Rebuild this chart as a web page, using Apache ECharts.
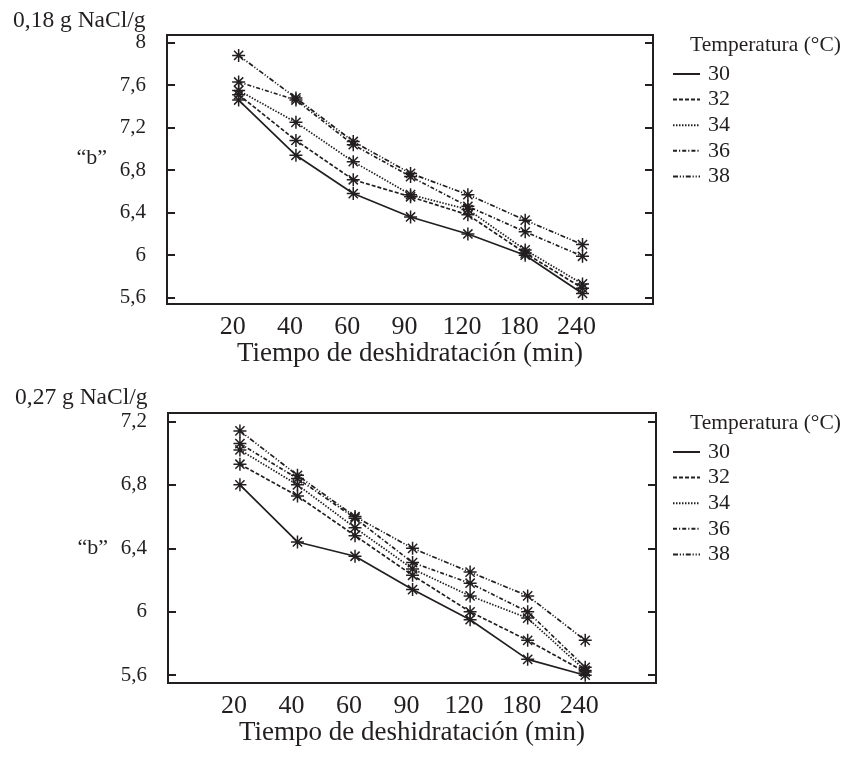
<!DOCTYPE html>
<html>
<head>
<meta charset="utf-8">
<script src="https://cdn.jsdelivr.net/npm/echarts@6/dist/echarts.min.js"></script>
<style>
html,body{margin:0;padding:0;background:#fff;}
#c{width:850px;height:757px;}
</style>
</head>
<body>
<div id="c"></div>
<script>
// Categories (dehydration time, min)
const categories = ['20', '40', '60', '90', '120', '180', '240'];
const temperatures = ['30', '32', '34', '36', '38'];

// 0,18 g NaCl/g — "b" values
const b18_30 = [7.46, 6.94, 6.58, 6.36, 6.20, 6.00, 5.64];
const b18_32 = [7.51, 7.08, 6.71, 6.55, 6.38, 6.02, 5.69];
const b18_34 = [7.55, 7.25, 6.88, 6.57, 6.43, 6.05, 5.73];
const b18_36 = [7.63, 7.46, 7.04, 6.74, 6.46, 6.22, 5.99];
const b18_38 = [7.88, 7.48, 7.07, 6.77, 6.57, 6.33, 6.10];

// 0,27 g NaCl/g — "b" values
const b27_30 = [6.80, 6.44, 6.35, 6.14, 5.95, 5.70, 5.60];
const b27_32 = [6.93, 6.73, 6.48, 6.23, 6.00, 5.82, 5.62];
const b27_34 = [7.02, 6.80, 6.53, 6.27, 6.10, 5.96, 5.63];
const b27_36 = [7.06, 6.84, 6.59, 6.31, 6.18, 6.00, 5.65];
const b27_38 = [7.14, 6.86, 6.60, 6.40, 6.25, 6.10, 5.82];

// Tick labels
const yTicksTop = [5.6, 6, 6.4, 6.8, 7.2, 7.6, 8];
const yTicksBottom = [5.6, 6, 6.4, 6.8, 7.2];
const xTickIdx = [0, 1, 2, 3, 4, 5, 6];

const topSets = [b18_30, b18_32, b18_34, b18_36, b18_38];
const botSets = [b27_30, b27_32, b27_34, b27_36, b27_38];

const FONT = '"Liberation Serif", "DejaVu Serif", serif';
const INK = '#231f20';
const dashes = ['solid', [4, 2], [1.5, 1.5], [4, 2, 1.2, 2], [5, 1.8, 1.2, 1.8, 1.2, 1.8]];
const asterisk = 'path://M0,-10L0,10M-10,0L10,0M-7.07,-7.07L7.07,7.07M-7.07,7.07L7.07,-7.07';

const fmtNum = v => String(+v.toFixed(2)).replace('.', ',');

function makeSeries(sets, gi) {
  return sets.map((arr, k) => ({
    name: temperatures[k],
    type: 'line',
    xAxisIndex: gi,
    yAxisIndex: gi * 2,
    data: arr.map((v, i) => [i, v]),
    symbol: asterisk,
    symbolSize: 13,
    showSymbol: true,
    lineStyle: { color: INK, width: 1.7, type: dashes[k] },
    itemStyle: { color: INK, borderColor: INK, borderWidth: 1.5 },
    emphasis: { disabled: true },
    animation: false,
    z: 5 - k
  }));
}

function xAxis(gi) {
  return {
    type: 'value', gridIndex: gi, min: -1.25, max: 7.23,
    axisLine: { show: false, onZero: false }, axisTick: { show: false }, splitLine: { show: false },
    axisLabel: {
      customValues: xTickIdx, formatter: v => categories[Math.round(v)],
      fontFamily: FONT, fontSize: 26, color: INK, margin: 10, padding: [0, 12, 0, 0]
    },
    name: 'Tiempo de deshidratación (min)', nameLocation: 'middle', nameGap: 36,
    nameTextStyle: { fontFamily: FONT, fontSize: 27, color: INK }
  };
}

function yAxes(gi, min, max, ticks, nameAlign) {
  return [{
    type: 'value', gridIndex: gi, min: min, max: max, position: 'left',
    axisLine: { show: false, onZero: false }, splitLine: { show: false },
    axisTick: { show: true, inside: true, length: 8, customValues: ticks, lineStyle: { color: INK, width: 2 } },
    axisLabel: { customValues: ticks, formatter: fmtNum, fontFamily: FONT, fontSize: 21, color: INK, margin: 21 },
    name: '\u201cb\u201d', nameLocation: 'middle', nameRotate: 0, nameGap: 60,
    nameTextStyle: { fontFamily: FONT, fontSize: 22, color: INK, verticalAlign: nameAlign }
  }, {
    type: 'value', gridIndex: gi, min: min, max: max, position: 'right',
    axisLine: { show: false, onZero: false }, splitLine: { show: false },
    axisTick: { show: true, inside: true, length: 8, customValues: ticks, lineStyle: { color: INK, width: 2 } },
    axisLabel: { show: false }
  }];
}

function legend(top) {
  return {
    data: temperatures, orient: 'vertical', left: 667, top: top,
    itemWidth: 27, itemHeight: 14, itemGap: 3.6,
    selectedMode: false,
    itemStyle: { opacity: 0 },
    textStyle: { fontFamily: FONT, fontSize: 22, color: INK, lineHeight: 22, padding: [0, 0, 0, 3] }
  };
}

const headStyle = { fontFamily: FONT, fontSize: 23.5, fontWeight: 'normal', color: INK };
const legTitleStyle = { fontFamily: FONT, fontSize: 21.5, fontWeight: 'normal', color: INK };

const chart = echarts.init(document.getElementById('c'), null, { renderer: 'canvas' });
chart.setOption({
  animation: false,
  backgroundColor: '#fff',
  title: [
    { text: '0,18 g NaCl/g', left: 8, top: 4, textStyle: headStyle },
    { text: '0,27 g NaCl/g', left: 10, top: 381, textStyle: headStyle },
    { text: 'Temperatura (\u00b0C)', left: 685, top: 29, textStyle: legTitleStyle },
    { text: 'Temperatura (\u00b0C)', left: 685, top: 407, textStyle: legTitleStyle }
  ],
  legend: [legend(58), legend(436)],
  grid: [
    { left: 167, top: 35, width: 486, height: 269, show: true, borderColor: INK, borderWidth: 2, backgroundColor: 'transparent', containLabel: false },
    { left: 168, top: 413, width: 488, height: 270, show: true, borderColor: INK, borderWidth: 2, backgroundColor: 'transparent', containLabel: false }
  ],
  xAxis: [xAxis(0), xAxis(1)],
  yAxis: [
    ...yAxes(0, 5.541, 8.072, yTicksTop, 'bottom'),
    ...yAxes(1, 5.551, 7.253, yTicksBottom, 'middle')
  ],
  series: [...makeSeries(topSets, 0), ...makeSeries(botSets, 1)]
});
</script>
</body>
</html>
